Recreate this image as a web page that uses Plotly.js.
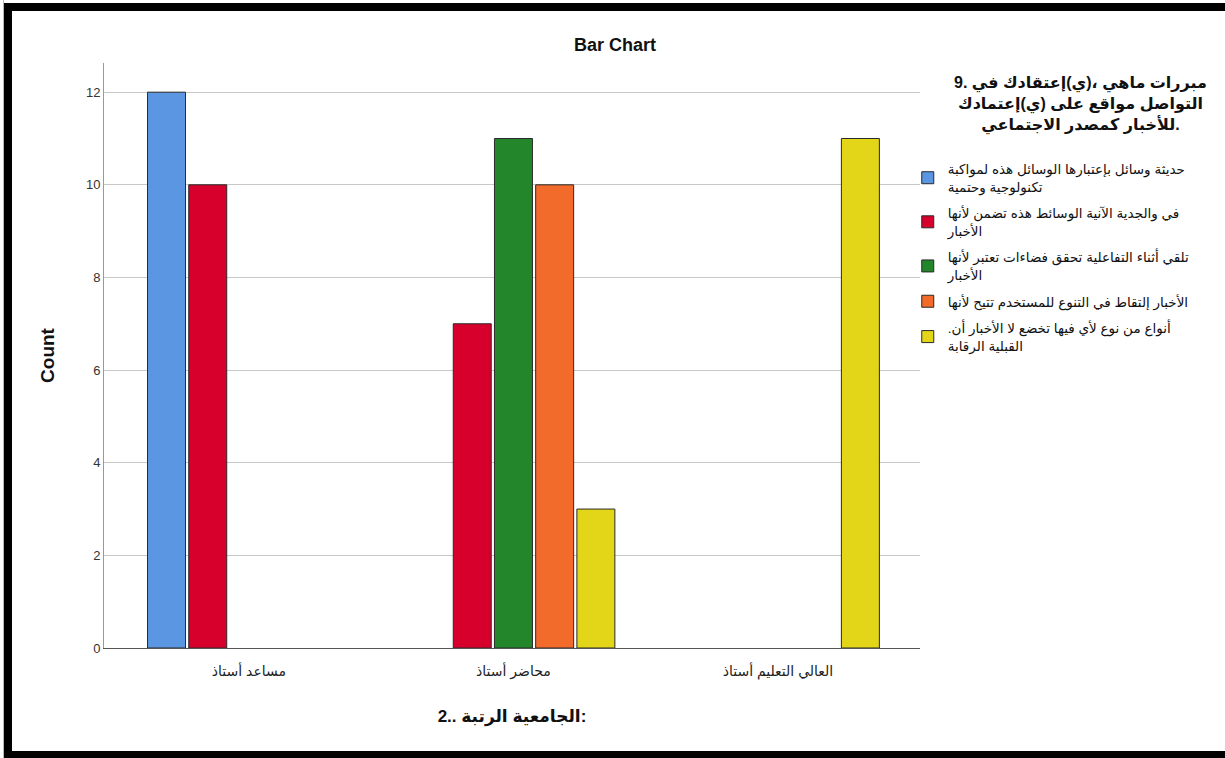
<!DOCTYPE html>
<html>
<head>
<meta charset="utf-8">
<script src="https://cdn.plot.ly/plotly-3.0.1.min.js"></script>
<style>
  html, body { margin: 0; padding: 0; background: #ffffff; }
  #wrap { position: relative; width: 1225px; height: 758px; overflow: hidden; }
  #chart { position: absolute; left: 0; top: 0; width: 1225px; height: 758px; }
  .frame { position: absolute; background: #000; pointer-events: none; }
</style>
</head>
<body>
<div id="wrap">
  <div id="chart"></div>
  <div class="frame" style="left:3px; top:0px; width:1px; height:758px; background:#b8b8b8;"></div>
  <div class="frame" style="left:4px; top:3px; width:8px; height:755px;"></div>
  <div class="frame" style="left:4px; top:3px; width:1221px; height:8px;"></div>
  <div class="frame" style="left:4px; top:751px; width:1221px; height:7px;"></div>
</div>
<script>
// ---- data ----
const categories = ["أستاذ مساعد", "أستاذ محاضر", "أستاذ التعليم العالي"];
const seriesNames = [
  "لمواكبة هذه الوسائل بإعتبارها وسائل حديثة<br>وحتمية تكنولوجية",
  "لأنها تضمن هذه الوسائط الآنية والجدية في<br>الأخبار",
  "لأنها تعتبر فضاءات تحقق التفاعلية أثناء تلقي<br>الأخبار",
  "لأنها تتيح للمستخدم التنوع في إلتقاط الأخبار",
  ".أن الأخبار لا تخضع فيها لأي نوع من أنواع<br>الرقابة القبلية"
];
const valuesBlue   = [12, null, null];
const valuesRed    = [10, 7, null];
const valuesGreen  = [null, 11, null];
const valuesOrange = [null, 10, null];
const valuesYellow = [null, 3, 11];
const yTickValues = [0, 2, 4, 6, 8, 10, 12];
const chartTitle = "Bar Chart";
const yTitle = "Count";
const xTitle = "2.. الرتبة الجامعية:";
const legendTitle = "9. في إعتقادك(ي)، ماهي مبررات<br>إعتمادك(ي) على مواقع التواصل<br>الاجتماعي كمصدر للأخبار.";

// ---- styles ----
const colors = ["#5a96e1", "#d7002d", "#24862a", "#f26b2a", "#e3d619"];
const seriesValues = [valuesBlue, valuesRed, valuesGreen, valuesOrange, valuesYellow];

// display words in left-to-right sequence, as the source renders them
const LRE = "\u202A", PDF = "\u202C", LRM = "\u200E";
function ltr(s) {
  return s.split("<br>").map(line =>
    LRE + line.replace(/([ ()،.:])/g, LRM + "$1" + LRM) + PDF
  ).join("<br>");
}

const FONT = "Arial, 'Liberation Sans', 'DejaVu Sans', sans-serif";

const traces = seriesValues.map((vals, i) => ({
  type: "bar",
  name: ltr(seriesNames[i]),
  legendgroup: "g" + i,
  x: categories,
  y: vals,
  marker: { color: colors[i], line: { color: "#2a2a2a", width: 1 } },
  hoverinfo: "x+y"
}));

const layout = {
  width: 1225,
  height: 758,
  paper_bgcolor: "#ffffff",
  plot_bgcolor: "#ffffff",
  margin: { l: 104, r: 305, t: 63, b: 110, pad: 0 },
  font: { family: FONT, color: "#000" },
  title: {
    text: "<b>" + chartTitle + "</b>",
    font: { family: FONT, size: 18, color: "#111" },
    x: 0.502, xref: "container", xanchor: "center",
    y: 1 - 45 / 758, yref: "container", yanchor: "middle"
  },
  barmode: "group",
  bargap: 0.221,
  bargroupgap: 0.078,
  xaxis: {
    type: "category",
    range: [-0.548, 2.537],
    tickvals: categories,
    ticktext: categories.map(ltr),
    tickfont: { family: FONT, size: 14, color: "#222" },
    ticks: "",
    ticklabelstandoff: 10,
    showline: true, linecolor: "#555", linewidth: 1,
    showgrid: false, zeroline: false,
    title: { text: "<b>" + ltr(xTitle) + "</b>", font: { family: FONT, size: 17, color: "#111" }, standoff: 31 }
  },
  yaxis: {
    range: [0, 12.63],
    tickvals: yTickValues,
    tickfont: { family: FONT, size: 13, color: "#333" },
    ticks: "",
    showline: true, linecolor: "#999", linewidth: 1,
    showgrid: true, gridcolor: "#c8c8c8", gridwidth: 1,
    zeroline: false,
    title: { text: "<b>" + yTitle + "</b>", font: { family: FONT, size: 19, color: "#111" }, standoff: 26 }
  },
  showlegend: true,
  legend: {
    x: 0.985, xanchor: "left",
    y: 0.845, yanchor: "top",
    font: { family: FONT, size: 13.5, color: "#111" },
    bgcolor: "rgba(0,0,0,0)",
    traceorder: "grouped",
    tracegroupgap: 6,
    itemclick: false, itemdoubleclick: false
  },
  annotations: [{
    text: "<b>" + ltr(legendTitle) + "</b>",
    xref: "paper", yref: "paper",
    x: (1080 - 104) / 816, y: (648 - 105) / 585,
    xanchor: "center", yanchor: "middle",
    align: "center", showarrow: false,
    font: { family: FONT, size: 16, color: "#111" }
  }]
};

Plotly.newPlot("chart", traces, layout, { displayModeBar: false });
</script>
</body>
</html>
